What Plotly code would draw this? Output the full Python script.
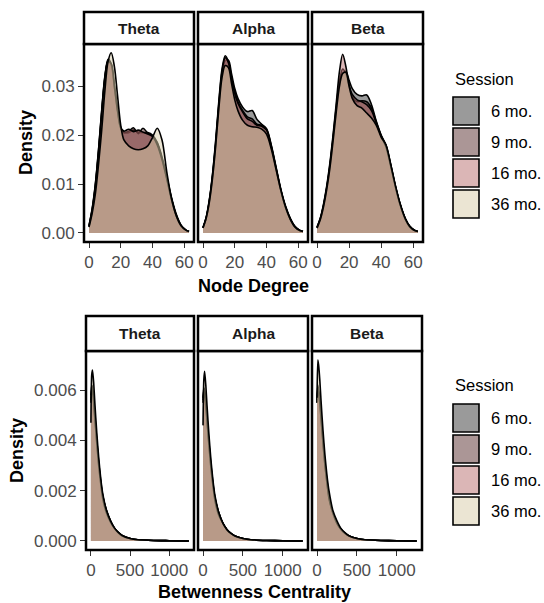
import plotly.graph_objects as go

# ---------------- data ----------------
facets = ["Theta", "Alpha", "Beta"]
sessions = ["6 mo.", "9 mo.", "16 mo.", "36 mo."]

# Node degree density (x grid shared by all curves)
deg_x = [0, 2, 4, 6, 8, 10, 12, 14, 16, 18, 20, 22, 25, 28, 31, 34, 37, 40, 43, 46, 49, 52, 55, 58, 61, 63]

deg_theta = [
    [0.0015, 0.005, 0.010, 0.017, 0.025, 0.032, 0.0355, 0.0345, 0.030, 0.025, 0.0215, 0.0205, 0.0205, 0.0210, 0.0206, 0.0205, 0.0205, 0.0200, 0.0185, 0.0155, 0.0115, 0.0072, 0.0038, 0.0016, 0.0006, 0.0003],
    [0.0014, 0.0048, 0.0098, 0.0168, 0.0248, 0.0318, 0.0352, 0.0343, 0.0298, 0.0248, 0.0213, 0.0205, 0.0208, 0.0215, 0.0203, 0.0214, 0.0204, 0.0198, 0.0183, 0.0152, 0.0112, 0.0070, 0.0036, 0.0015, 0.0006, 0.0003],
    [0.0013, 0.0046, 0.0095, 0.0163, 0.0243, 0.0315, 0.0350, 0.0346, 0.0300, 0.0250, 0.0215, 0.0208, 0.0212, 0.0207, 0.0210, 0.0206, 0.0202, 0.0197, 0.0180, 0.0150, 0.0110, 0.0068, 0.0035, 0.0015, 0.0006, 0.0003],
    [0.0012, 0.004, 0.008, 0.014, 0.021, 0.029, 0.035, 0.0368, 0.034, 0.028, 0.022, 0.019, 0.0178, 0.0172, 0.0170, 0.0172, 0.0178, 0.0195, 0.0214, 0.019, 0.0125, 0.007, 0.0035, 0.0015, 0.0006, 0.0003],
]
deg_alpha = [
    [0.0010, 0.0030, 0.0065, 0.0115, 0.0180, 0.0260, 0.0320, 0.0352, 0.0353, 0.0325, 0.0295, 0.0275, 0.0257, 0.0248, 0.0250, 0.0232, 0.0222, 0.0213, 0.0180, 0.0135, 0.0090, 0.0055, 0.0030, 0.0013, 0.0005, 0.0003],
    [0.0011, 0.0032, 0.0068, 0.0120, 0.0190, 0.0270, 0.0335, 0.0362, 0.0350, 0.0318, 0.0288, 0.0268, 0.0250, 0.0237, 0.0233, 0.0222, 0.0220, 0.0212, 0.0178, 0.0133, 0.0088, 0.0053, 0.0029, 0.0013, 0.0005, 0.0003],
    [0.0011, 0.0031, 0.0066, 0.0118, 0.0185, 0.0265, 0.0330, 0.0358, 0.0348, 0.0315, 0.0285, 0.0265, 0.0247, 0.0233, 0.0228, 0.0220, 0.0218, 0.0210, 0.0176, 0.0132, 0.0087, 0.0052, 0.0028, 0.0012, 0.0005, 0.0003],
    [0.0010, 0.0030, 0.0063, 0.0112, 0.0178, 0.0255, 0.0318, 0.0342, 0.0338, 0.0305, 0.0272, 0.0250, 0.0230, 0.0220, 0.0217, 0.0216, 0.0212, 0.0202, 0.0172, 0.0130, 0.0088, 0.0053, 0.0028, 0.0012, 0.0005, 0.0003],
]
deg_beta = [
    [0.0011, 0.0028, 0.0055, 0.0090, 0.0135, 0.0190, 0.0250, 0.0300, 0.0325, 0.0330, 0.0312, 0.0295, 0.0283, 0.0280, 0.0282, 0.0262, 0.0228, 0.0200, 0.0180, 0.0140, 0.0095, 0.0058, 0.0030, 0.0013, 0.0005, 0.0003],
    [0.0011, 0.0029, 0.0056, 0.0092, 0.0138, 0.0195, 0.0258, 0.0310, 0.0335, 0.0325, 0.0300, 0.0278, 0.0268, 0.0270, 0.0268, 0.0255, 0.0226, 0.0199, 0.0178, 0.0138, 0.0094, 0.0057, 0.0030, 0.0013, 0.0005, 0.0003],
    [0.0012, 0.0030, 0.0058, 0.0095, 0.0142, 0.0200, 0.0265, 0.0330, 0.0365, 0.0340, 0.0302, 0.0283, 0.0272, 0.0268, 0.0262, 0.0250, 0.0224, 0.0198, 0.0176, 0.0136, 0.0093, 0.0056, 0.0029, 0.0012, 0.0005, 0.0003],
    [0.0010, 0.0027, 0.0053, 0.0088, 0.0132, 0.0188, 0.0248, 0.0300, 0.0326, 0.0328, 0.0300, 0.0275, 0.0260, 0.0255, 0.0245, 0.0235, 0.0220, 0.0196, 0.0180, 0.0140, 0.0096, 0.0058, 0.0030, 0.0013, 0.0005, 0.0003],
]

# Betweenness centrality density
btw_x = [0, 10, 20, 35, 50, 75, 100, 125, 150, 200, 250, 300, 350, 400, 500, 600, 800, 1000, 1250]

btw_theta = [
    [0.0058, 0.0062, 0.0061, 0.0057, 0.0050, 0.0040, 0.0031, 0.0024, 0.0018, 0.0012, 0.0008, 0.00052, 0.00034, 0.00022, 0.0001, 0.00005, 0.00002, 0.00001, 0.0],
    [0.0056, 0.0060, 0.0060, 0.0056, 0.0049, 0.0039, 0.0030, 0.0023, 0.0018, 0.0012, 0.0008, 0.00050, 0.00033, 0.00021, 0.0001, 0.00005, 0.00002, 0.00001, 0.0],
    [0.0055, 0.0059, 0.0059, 0.0055, 0.0049, 0.0039, 0.0030, 0.0023, 0.0017, 0.0011, 0.00075, 0.00050, 0.00032, 0.00020, 0.0001, 0.00005, 0.00002, 0.00001, 0.0],
    [0.0047, 0.0066, 0.0068, 0.0063, 0.0055, 0.0043, 0.0033, 0.0025, 0.0019, 0.0012, 0.0008, 0.00052, 0.00034, 0.00022, 0.0001, 0.00005, 0.00002, 0.00001, 0.0],
]
btw_alpha = [
    [0.0057, 0.0061, 0.0060, 0.0056, 0.0049, 0.0039, 0.0030, 0.0023, 0.0017, 0.0011, 0.0007, 0.00046, 0.00030, 0.00020, 0.0001, 0.00005, 0.00002, 0.00001, 0.0],
    [0.0056, 0.0060, 0.0059, 0.0055, 0.0048, 0.0038, 0.0029, 0.0022, 0.0017, 0.0011, 0.0007, 0.00045, 0.00030, 0.00020, 0.0001, 0.00005, 0.00002, 0.00001, 0.0],
    [0.0055, 0.0059, 0.0058, 0.0054, 0.0048, 0.0038, 0.0029, 0.0022, 0.0016, 0.0010, 0.0007, 0.00045, 0.00030, 0.00020, 0.0001, 0.00005, 0.00002, 0.00001, 0.0],
    [0.0046, 0.0064, 0.00675, 0.0062, 0.0054, 0.0042, 0.0032, 0.0024, 0.0018, 0.0011, 0.0007, 0.00045, 0.00030, 0.00020, 0.0001, 0.00005, 0.00002, 0.00001, 0.0],
]
btw_beta = [
    [0.0056, 0.0062, 0.0060, 0.0056, 0.0050, 0.0040, 0.0031, 0.0024, 0.0018, 0.0011, 0.0007, 0.00048, 0.00031, 0.00020, 0.0001, 0.00005, 0.00002, 0.00001, 0.0],
    [0.0055, 0.0061, 0.0059, 0.0055, 0.0049, 0.0039, 0.0030, 0.0023, 0.0017, 0.0011, 0.0007, 0.00047, 0.00030, 0.00020, 0.0001, 0.00005, 0.00002, 0.00001, 0.0],
    [0.0055, 0.0060, 0.0059, 0.0055, 0.0049, 0.0039, 0.0030, 0.0023, 0.0017, 0.0011, 0.0007, 0.00046, 0.00030, 0.00020, 0.0001, 0.00005, 0.00002, 0.00001, 0.0],
    [0.0057, 0.0072, 0.0070, 0.0064, 0.0056, 0.0044, 0.0034, 0.0026, 0.0020, 0.0012, 0.0008, 0.00050, 0.00033, 0.00021, 0.0001, 0.00005, 0.00002, 0.00001, 0.0],
]

deg_ticks = [0, 20, 40, 60]
deg_yticks = [0.00, 0.01, 0.02, 0.03]
deg_ytext = ["0.00", "0.01", "0.02", "0.03"]
btw_ticks = [0, 500, 1000]
btw_yticks = [0.000, 0.002, 0.004, 0.006]
btw_ytext = ["0.000", "0.002", "0.004", "0.006"]

# ---------------- styling ----------------
W, H = 544, 603
FONT = "Liberation Sans, Arial, sans-serif"
fills = ["rgba(53,53,53,0.5)", "rgba(87,45,45,0.5)", "rgba(183,109,109,0.5)", "rgba(215,203,167,0.5)"]

def px(x):
    return x / W

def py(y):
    return 1 - y / H

rows = [
    dict(data=[deg_theta, deg_alpha, deg_beta], x=deg_x, xr=[-3.15, 66.15], yr=[-0.00184, 0.0386],
         xt=deg_ticks, yt=deg_yticks, ytt=deg_ytext, smooth=0.9,
         panels=[(84, 194), (198, 308), (312, 423)], ytop=44, ybot=242, strip=(12, 44),
         title="Node Degree", title_y=286, dens_x=26, dens_y=143, leg_y=79, key_y=97),
    dict(data=[btw_theta, btw_alpha, btw_beta], x=btw_x, xr=[-63, 1317], yr=[-0.00036, 0.00756],
         xt=btw_ticks, yt=btw_yticks, ytt=btw_ytext, smooth=0.6,
         panels=[(86, 194), (198, 308), (312, 422)], ytop=351, ybot=550, strip=(316, 351),
         title="Betwenness Centrality", title_y=592, dens_x=17, dens_y=451, leg_y=385, key_y=404),
]

fig = go.Figure()
shapes = []
annotations = []
layout = {}

k = 0
for r in rows:
    for i, facet in enumerate(facets):
        k += 1
        xa = "xaxis" if k == 1 else f"xaxis{k}"
        ya = "yaxis" if k == 1 else f"yaxis{k}"
        xref = "x" if k == 1 else f"x{k}"
        yref = "y" if k == 1 else f"y{k}"
        x0, x1 = r["panels"][i]
        tickfont = dict(family=FONT, size=17, color="#4d4d4d")
        layout[xa] = dict(domain=[px(x0), px(x1)], anchor=yref, range=r["xr"], tickvals=r["xt"],
                          ticks="outside", ticklen=5, tickwidth=1.2, tickcolor="#333333",
                          showgrid=False, zeroline=False, showline=False, tickfont=tickfont)
        ydict = dict(domain=[py(r["ybot"]), py(r["ytop"])], anchor=xref, range=r["yr"],
                     showgrid=False, zeroline=False, showline=False)
        if i == 0:
            ydict.update(tickvals=r["yt"], ticktext=r["ytt"], ticks="outside", ticklen=5,
                         tickwidth=1.2, tickcolor="#333333", tickfont=tickfont)
        else:
            ydict.update(showticklabels=False, ticks="")
        layout[ya] = ydict

        for s, name in enumerate(sessions):
            fig.add_trace(go.Scatter(
                x=r["x"], y=r["data"][i][s], xaxis=xref, yaxis=yref, name=name,
                mode="lines", fill="tozeroy", fillcolor=fills[s],
                line=dict(color="black", width=1.6, shape="spline", smoothing=r["smooth"]),
                showlegend=False, hoverinfo="skip"))

        # panel border
        shapes.append(dict(type="rect", xref="paper", yref="paper", x0=px(x0), x1=px(x1),
                           y0=py(r["ybot"]), y1=py(r["ytop"]), line=dict(color="black", width=2.5),
                           fillcolor="rgba(0,0,0,0)", layer="above"))
        # strip
        s0, s1 = r["strip"]
        shapes.append(dict(type="rect", xref="paper", yref="paper", x0=px(x0), x1=px(x1),
                           y0=py(s1), y1=py(s0), line=dict(color="black", width=2.5),
                           fillcolor="white", layer="above"))
        annotations.append(dict(text=facet, xref="paper", yref="paper", x=px((x0 + x1) / 2),
                                y=py((s0 + s1) / 2), showarrow=False, xanchor="center", yanchor="middle",
                                font=dict(family=FONT, size=15.5, color="#1a1a1a", weight="bold")))

    # axis titles
    p0 = r["panels"][0][0]
    p1 = r["panels"][2][1]
    annotations.append(dict(text=r["title"], xref="paper", yref="paper", x=px((p0 + p1) / 2),
                            y=py(r["title_y"]), showarrow=False, xanchor="center", yanchor="middle",
                            font=dict(family=FONT, size=18, color="black", weight="bold")))
    annotations.append(dict(text="Density", xref="paper", yref="paper", x=px(r["dens_x"]),
                            y=py(r["dens_y"]), showarrow=False, textangle=-90, xanchor="center",
                            yanchor="middle", font=dict(family=FONT, size=18, color="black", weight="bold")))

    # legend (drawn manually, ggplot-style)
    annotations.append(dict(text="Session", xref="paper", yref="paper", x=px(453), y=py(r["leg_y"]),
                            showarrow=False, xanchor="left", yanchor="middle",
                            font=dict(family=FONT, size=16.5, color="black")))
    for s, name in enumerate(sessions):
        ky0 = r["key_y"] + s * 31
        ky1 = ky0 + 28
        shapes.append(dict(type="rect", xref="paper", yref="paper", x0=px(453), x1=px(479),
                           y0=py(ky1), y1=py(ky0), line=dict(color="black", width=1.6),
                           fillcolor=fills[s], layer="above"))
        annotations.append(dict(text=name, xref="paper", yref="paper", x=px(489), y=py((ky0 + ky1) / 2),
                                showarrow=False, xanchor="left", yanchor="middle",
                                font=dict(family=FONT, size=16.5, color="black")))

fig.update_layout(**layout)
fig.update_layout(width=W, height=H, autosize=False, margin=dict(l=0, r=0, t=0, b=0),
                  paper_bgcolor="white", plot_bgcolor="white", showlegend=False,
                  shapes=shapes, annotations=annotations, font=dict(family=FONT))

fig.write_html("out.html")
